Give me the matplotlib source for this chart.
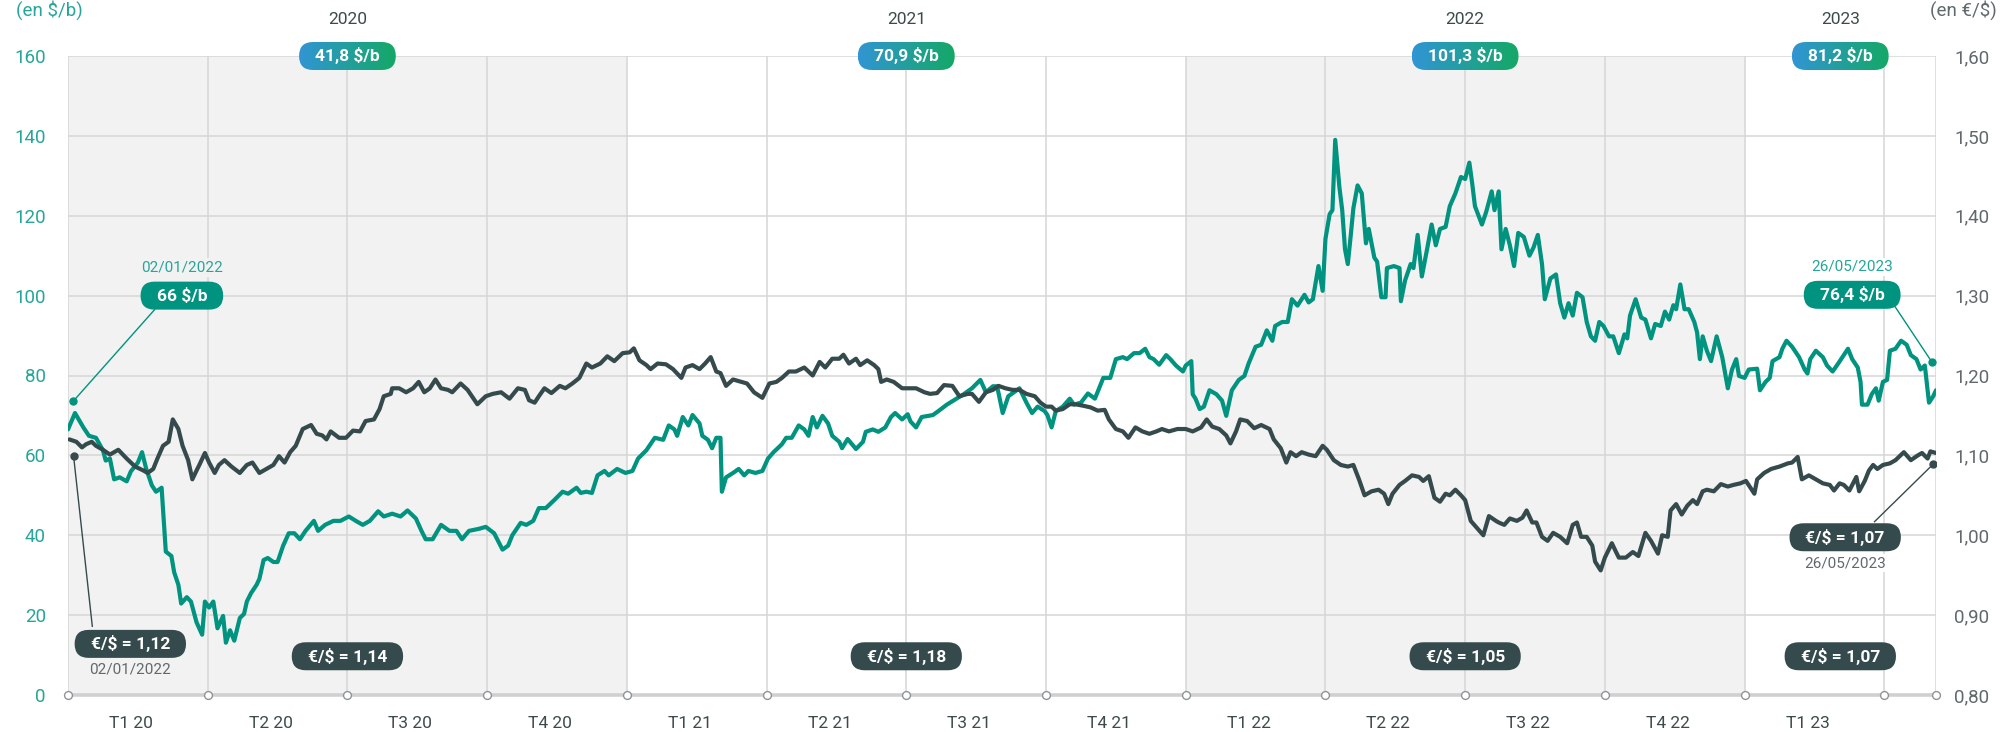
import matplotlib

matplotlib.use("Agg")
import matplotlib.pyplot as plt
import numpy as np
from matplotlib.colors import LinearSegmentedColormap
from matplotlib.patches import FancyBboxPatch
from matplotlib.transforms import IdentityTransform

plt.rcParams["font.family"] = ["Roboto", "DejaVu Sans"]

# time in quarters since 01/01/2020 (the chart draws every quarter the same width)
brent_q = [
    0.00, 0.05, 0.11, 0.15, 0.20, 0.25, 0.27, 0.30, 0.33, 0.37, 0.42, 0.45, 0.50, 0.53,
    0.56, 0.60, 0.63, 0.67, 0.70, 0.74, 0.76, 0.79, 0.81, 0.85, 0.88, 0.92, 0.96, 0.98,
    1.01, 1.04, 1.07, 1.11, 1.13, 1.16, 1.19, 1.23, 1.26, 1.28, 1.31, 1.35, 1.37, 1.40,
    1.43, 1.47, 1.50, 1.54, 1.58, 1.62, 1.66, 1.70, 1.76, 1.79, 1.84, 1.90, 1.95, 2.01,
    2.06, 2.11, 2.16, 2.22, 2.26, 2.32, 2.38, 2.43, 2.49, 2.53, 2.56, 2.61, 2.67, 2.73,
    2.78, 2.82, 2.87, 2.94, 2.99, 3.05, 3.11, 3.15, 3.18, 3.24, 3.28, 3.33, 3.37, 3.42,
    3.48, 3.54, 3.58, 3.64, 3.67, 3.71, 3.75, 3.79, 3.84, 3.87, 3.93, 3.99, 4.04, 4.08,
    4.14, 4.20, 4.26, 4.30, 4.34, 4.36, 4.40, 4.44, 4.47, 4.52, 4.54, 4.58, 4.61, 4.64,
    4.67, 4.68, 4.71, 4.76, 4.80, 4.84, 4.87, 4.92, 4.97, 5.01, 5.05, 5.11, 5.14, 5.18,
    5.23, 5.27, 5.30, 5.33, 5.36, 5.40, 5.44, 5.47, 5.52, 5.54, 5.58, 5.64, 5.69, 5.71,
    5.76, 5.80, 5.85, 5.89, 5.92, 5.97, 6.01, 6.03, 6.07, 6.11, 6.19, 6.23, 6.29, 6.36,
    6.41, 6.47, 6.53, 6.57, 6.62, 6.65, 6.69, 6.73, 6.81, 6.86, 6.90, 6.94, 6.99, 7.01,
    7.04, 7.07, 7.12, 7.17, 7.20, 7.25, 7.30, 7.35, 7.41, 7.46, 7.50, 7.55, 7.58, 7.63,
    7.67, 7.71, 7.74, 7.77, 7.81, 7.86, 7.89, 7.93, 7.98, 8.00, 8.04, 8.05, 8.07, 8.10,
    8.13, 8.17, 8.22, 8.26, 8.29, 8.33, 8.38, 8.42, 8.45, 8.50, 8.54, 8.58, 8.62, 8.64,
    8.69, 8.73, 8.76, 8.80, 8.85, 8.88, 8.91, 8.95, 8.98, 9.00, 9.03, 9.05, 9.07, 9.10,
    9.12, 9.14, 9.16, 9.18, 9.20, 9.23, 9.26, 9.29, 9.31, 9.35, 9.37, 9.40, 9.43, 9.44,
    9.49, 9.53, 9.54, 9.57, 9.61, 9.63, 9.66, 9.69, 9.73, 9.76, 9.79, 9.82, 9.86, 9.89,
    9.93, 9.97, 10.00, 10.03, 10.05, 10.07, 10.12, 10.15, 10.19, 10.21, 10.24, 10.26,
    10.29, 10.32, 10.35, 10.38, 10.42, 10.46, 10.49, 10.52, 10.55, 10.57, 10.61, 10.65,
    10.68, 10.71, 10.74, 10.77, 10.80, 10.84, 10.87, 10.90, 10.93, 10.96, 10.99, 11.03,
    11.06, 11.10, 11.14, 11.16, 11.18, 11.22, 11.26, 11.29, 11.33, 11.36, 11.40, 11.43,
    11.46, 11.49, 11.51, 11.54, 11.57, 11.60, 11.64, 11.66, 11.68, 11.70, 11.73, 11.76,
    11.80, 11.84, 11.88, 11.91, 11.94, 11.96, 12.00, 12.03, 12.09, 12.11, 12.15, 12.18,
    12.20, 12.25, 12.27, 12.30, 12.34, 12.39, 12.43, 12.45, 12.47, 12.51, 12.56, 12.59,
    12.63, 12.67, 12.71, 12.74, 12.77, 12.81, 12.83, 12.84, 12.88, 12.91, 12.94, 12.96,
    12.99, 13.02, 13.04, 13.08, 13.12, 13.16, 13.19, 13.23, 13.26, 13.29, 13.32, 13.35,
    13.37,
]
brent_usd = [
    66.5, 70.6, 67.0, 64.9, 64.4, 61.3, 58.7, 59.2, 54.0, 54.5, 53.5, 56.0, 58.2, 60.8,
    56.6, 52.5, 50.9, 51.9, 35.9, 34.8, 30.7, 27.6, 22.9, 24.5, 23.4, 18.2, 15.1, 23.4,
    21.9, 23.4, 16.7, 19.8, 13.1, 16.2, 13.6, 19.3, 20.3, 23.4, 25.5, 27.6, 29.1, 33.8,
    34.3, 33.3, 33.3, 37.4, 40.5, 40.5, 39.0, 41.1, 43.6, 41.1, 42.6, 43.6, 43.6, 44.7,
    43.6, 42.6, 43.6, 46.0, 44.7, 45.4, 44.7, 46.2, 44.2, 41.1, 39.0, 39.0, 42.6, 41.1,
    41.1, 39.0, 41.1, 41.6, 42.1, 40.5, 36.4, 37.4, 40.0, 43.1, 42.6, 43.6, 46.8, 46.8,
    48.8, 50.9, 50.4, 51.9, 50.6, 50.9, 50.6, 55.0, 56.1, 55.0, 56.6, 55.6, 56.1, 59.2,
    61.3, 64.4, 63.9, 67.5, 66.5, 64.9, 69.6, 67.5, 70.1, 68.0, 64.9, 63.9, 61.8, 64.4,
    64.4, 50.9, 54.5, 55.6, 56.6, 55.0, 56.1, 55.6, 56.1, 59.2, 60.8, 62.8, 64.4, 64.4,
    67.5, 66.5, 64.9, 69.6, 67.0, 69.9, 68.0, 64.9, 63.4, 61.8, 64.1, 61.6, 63.4, 65.9,
    66.5, 65.9, 67.0, 69.6, 70.6, 69.0, 70.3, 68.5, 67.0, 69.6, 70.1, 71.1, 72.7, 74.2,
    75.3, 76.8, 78.9, 75.8, 77.3, 77.3, 70.6, 74.8, 76.8, 73.2, 70.6, 72.2, 71.1, 70.1,
    67.0, 71.1, 72.2, 74.2, 72.7, 73.2, 75.5, 74.2, 79.4, 79.4, 84.1, 84.6, 84.1, 85.6,
    85.6, 86.7, 84.6, 84.1, 82.7, 85.1, 84.1, 82.5, 81.0, 82.5, 83.6, 75.3, 74.2, 71.6,
    72.2, 76.3, 75.3, 73.7, 69.9, 76.3, 78.9, 79.9, 83.0, 87.2, 87.7, 91.3, 88.7, 92.4,
    93.4, 93.4, 99.1, 97.5, 100.2, 98.3, 99.1, 107.4, 101.2, 114.2, 120.4, 121.4, 139.0, 127.1,
    121.4, 111.6, 107.9, 114.7, 121.9, 127.6, 125.6, 113.1, 116.7, 109.5, 108.5, 99.6, 99.6, 106.9,
    107.4, 106.9, 98.6, 103.8, 107.9, 106.9, 115.2, 104.8, 112.1, 117.8, 112.6, 116.7, 117.2, 122.4,
    125.6, 129.7, 129.2, 133.3, 128.2, 122.4, 117.8, 120.9, 126.1, 121.4, 126.1, 111.6,
    116.7, 112.6, 107.4, 115.7, 114.7, 110.0, 112.1, 115.2, 107.9, 99.1, 104.3, 105.3,
    98.1, 94.5, 98.1, 95.0, 100.7, 99.6, 93.4, 89.8, 88.7, 93.4, 92.4, 89.8,
    89.8, 85.6, 90.3, 89.3, 95.0, 99.1, 94.5, 94.0, 89.3, 92.9, 92.4, 96.0,
    94.0, 97.6, 96.6, 102.8, 96.6, 96.6, 93.4, 90.8, 84.1, 89.8, 86.2, 83.6,
    89.8, 84.6, 76.8, 81.5, 84.1, 79.9, 79.4, 81.5, 81.7, 76.3, 78.4, 79.4,
    83.6, 84.6, 86.7, 88.7, 87.2, 84.6, 81.5, 80.5, 84.1, 86.2, 84.6, 82.5,
    81.0, 83.0, 85.1, 86.7, 84.1, 82.0, 78.4, 72.7, 72.7, 75.3, 76.8, 73.7,
    78.4, 78.9, 86.2, 86.7, 88.7, 87.7, 85.1, 84.1, 81.5, 82.5, 73.2, 74.8,
    76.3,
]

eurusd_q = [
    0.01, 0.06, 0.10, 0.13, 0.17, 0.20, 0.25, 0.30, 0.36, 0.42, 0.48, 0.54, 0.57, 0.61,
    0.64, 0.68, 0.72, 0.75, 0.79, 0.82, 0.86, 0.89, 0.92, 0.94, 0.98, 1.01, 1.05, 1.08,
    1.12, 1.17, 1.23, 1.28, 1.32, 1.37, 1.42, 1.47, 1.51, 1.55, 1.59, 1.63, 1.68, 1.74,
    1.78, 1.82, 1.85, 1.88, 1.94, 1.99, 2.04, 2.09, 2.13, 2.19, 2.23, 2.26, 2.31, 2.32,
    2.37, 2.42, 2.47, 2.51, 2.55, 2.59, 2.63, 2.67, 2.72, 2.75, 2.81, 2.86, 2.93, 2.99,
    3.04, 3.10, 3.16, 3.22, 3.27, 3.30, 3.34, 3.37, 3.41, 3.46, 3.52, 3.56, 3.61, 3.66,
    3.71, 3.75, 3.81, 3.86, 3.91, 3.97, 4.02, 4.05, 4.09, 4.14, 4.17, 4.22, 4.28, 4.33,
    4.39, 4.42, 4.47, 4.52, 4.56, 4.60, 4.64, 4.67, 4.71, 4.76, 4.82, 4.86, 4.91, 4.97,
    5.02, 5.07, 5.11, 5.16, 5.21, 5.27, 5.33, 5.38, 5.42, 5.47, 5.52, 5.55, 5.59, 5.64,
    5.67, 5.72, 5.77, 5.80, 5.82, 5.86, 5.91, 5.97, 6.02, 6.07, 6.13, 6.17, 6.22, 6.27,
    6.33, 6.38, 6.44, 6.47, 6.52, 6.57, 6.62, 6.66, 6.71, 6.76, 6.81, 6.86, 6.92, 6.96,
    7.00, 7.04, 7.07, 7.12, 7.17, 7.21, 7.27, 7.32, 7.37, 7.42, 7.45, 7.50, 7.55, 7.59,
    7.64, 7.69, 7.74, 7.79, 7.83, 7.88, 7.94, 8.00, 8.05, 8.11, 8.15, 8.19, 8.24, 8.29,
    8.32, 8.36, 8.39, 8.44, 8.49, 8.54, 8.60, 8.63, 8.68, 8.72, 8.75, 8.79, 8.83, 8.88,
    8.93, 8.98, 9.01, 9.06, 9.11, 9.16, 9.20, 9.24, 9.28, 9.33, 9.38, 9.42, 9.45, 9.48,
    9.53, 9.57, 9.62, 9.67, 9.70, 9.74, 9.78, 9.82, 9.86, 9.89, 9.93, 9.97, 10.00, 10.04,
    10.09, 10.13, 10.17, 10.22, 10.24, 10.28, 10.32, 10.37, 10.41, 10.44, 10.48, 10.51,
    10.55, 10.59, 10.63, 10.68, 10.73, 10.77, 10.80, 10.83, 10.87, 10.91, 10.93, 10.97,
    11.00, 11.05, 11.08, 11.10, 11.15, 11.20, 11.24, 11.29, 11.33, 11.38, 11.41, 11.45,
    11.47, 11.51, 11.55, 11.59, 11.63, 11.66, 11.70, 11.73, 11.78, 11.83, 11.88, 11.92,
    11.97, 12.01, 12.07, 12.09, 12.14, 12.19, 12.25, 12.31, 12.34, 12.38, 12.41, 12.46,
    12.51, 12.56, 12.61, 12.64, 12.68, 12.71, 12.75, 12.80, 12.82, 12.86, 12.89, 12.92,
    12.95, 12.99, 13.04, 13.08, 13.14, 13.19, 13.24, 13.27, 13.31, 13.33, 13.37,
]
eurusd = [
    1.120, 1.117, 1.110, 1.114, 1.117, 1.112, 1.107, 1.101, 1.107, 1.096, 1.086, 1.081, 1.078, 1.083,
    1.096, 1.112, 1.117, 1.145, 1.133, 1.112, 1.094, 1.070, 1.081, 1.088, 1.103, 1.091, 1.078, 1.088,
    1.094, 1.086, 1.078, 1.088, 1.091, 1.078, 1.083, 1.088, 1.099, 1.091, 1.104, 1.112, 1.133, 1.138,
    1.127, 1.125, 1.120, 1.130, 1.122, 1.122, 1.131, 1.130, 1.143, 1.145, 1.158, 1.174, 1.177, 1.184,
    1.184, 1.179, 1.184, 1.192, 1.179, 1.184, 1.195, 1.184, 1.182, 1.179, 1.190, 1.182, 1.164, 1.174,
    1.177, 1.179, 1.171, 1.184, 1.182, 1.169, 1.166, 1.174, 1.184, 1.178, 1.187, 1.184, 1.190, 1.197,
    1.215, 1.210, 1.215, 1.224, 1.218, 1.228, 1.229, 1.234, 1.219, 1.213, 1.208, 1.215, 1.214, 1.208,
    1.197, 1.210, 1.213, 1.208, 1.215, 1.223, 1.205, 1.203, 1.187, 1.195, 1.192, 1.190, 1.179, 1.172,
    1.190, 1.192, 1.197, 1.205, 1.205, 1.210, 1.200, 1.217, 1.210, 1.221, 1.221, 1.226, 1.215, 1.221,
    1.213, 1.219, 1.213, 1.208, 1.192, 1.195, 1.192, 1.184, 1.184, 1.184, 1.179, 1.177, 1.178, 1.188,
    1.187, 1.174, 1.177, 1.177, 1.167, 1.179, 1.182, 1.187, 1.184, 1.182, 1.182, 1.177, 1.174, 1.166,
    1.161, 1.161, 1.156, 1.158, 1.164, 1.164, 1.162, 1.160, 1.156, 1.157, 1.145, 1.133, 1.130, 1.122,
    1.135, 1.130, 1.127, 1.130, 1.133, 1.130, 1.133, 1.133, 1.130, 1.135, 1.145, 1.136, 1.133, 1.125,
    1.115, 1.130, 1.145, 1.143, 1.134, 1.138, 1.133, 1.120, 1.109, 1.091, 1.104, 1.099, 1.104, 1.101,
    1.099, 1.112, 1.107, 1.094, 1.088, 1.086, 1.088, 1.070, 1.050, 1.055, 1.057, 1.052, 1.039, 1.052,
    1.063, 1.068, 1.075, 1.073, 1.068, 1.074, 1.047, 1.042, 1.052, 1.050, 1.057, 1.050, 1.044, 1.018,
    1.008, 1.000, 1.024, 1.018, 1.016, 1.013, 1.021, 1.018, 1.022, 1.031, 1.016, 1.016,
    0.998, 0.993, 1.003, 0.998, 0.990, 1.013, 1.016, 0.998, 0.998, 0.987, 0.967, 0.956,
    0.972, 0.990, 0.979, 0.972, 0.972, 0.979, 0.974, 1.003, 0.993, 0.977, 1.000, 0.998,
    1.031, 1.039, 1.026, 1.037, 1.044, 1.039, 1.055, 1.057, 1.055, 1.064, 1.061, 1.063,
    1.065, 1.068, 1.052, 1.070, 1.078, 1.083, 1.086, 1.090, 1.091, 1.098, 1.070, 1.075,
    1.070, 1.065, 1.063, 1.056, 1.065, 1.063, 1.056, 1.073, 1.055, 1.068, 1.081, 1.088,
    1.083, 1.088, 1.090, 1.094, 1.104, 1.094, 1.100, 1.103, 1.096, 1.105, 1.103,
]

END_Q = 13.37
quarter_labels = ["T1 20", "T2 20", "T3 20", "T4 20", "T1 21", "T2 21", "T3 21",
                  "T4 21", "T1 22", "T2 22", "T3 22", "T4 22", "T1 23"]
years = ["2020", "2021", "2022", "2023"]
year_mid = [2.0, 6.0, 10.0, (12 + END_Q) / 2]
year_brent = ["41,8 $/b", "70,9 $/b", "101,3 $/b", "81,2 $/b"]
year_fx = ["€/$ = 1,14", "€/$ = 1,18", "€/$ = 1,05", "€/$ = 1,07"]
grey_years = [(0, 4), (8, 12)]

TEAL = "#00937f"
TEAL_TXT = "#26a69a"
DARK = "#354a4d"
GRID = "#d6d6d6"
SHADE = "#f2f2f2"
TXT = "#3d4a4c"
GREY = "#60696b"

W, H = 2001, 732
fig = plt.figure(figsize=(W / 100, H / 100), dpi=100)
ax = fig.add_axes([68 / W, 1 - 695 / H, (1936 - 68) / W, (695 - 56) / H])
ax2 = ax.twinx()
ax.set_xlim(0, END_Q)
ax.set_ylim(0, 160)
ax2.set_ylim(0.8, 1.6)

for a in (ax, ax2):
    for s in a.spines.values():
        s.set_visible(False)
ax.set_xticks([])
ax.set_yticks(range(0, 161, 20))
ax.tick_params(axis="y", length=0, pad=16, labelsize=13.5, labelcolor=TEAL_TXT)
fx_ticks = np.round(np.arange(0.8, 1.61, 0.1), 2)
ax2.set_yticks(fx_ticks, [f"{v:.2f}".replace(".", ",") for v in fx_ticks])
ax2.tick_params(axis="y", length=0, pad=13, labelsize=13.5, labelcolor=GREY)

for a, b in grey_years:
    ax.axvspan(a, b, color=SHADE, lw=0, zorder=0)
for q in list(range(14)) + [END_Q]:
    ax.axvline(q, color=GRID, lw=1.1, zorder=1)
for y in range(20, 161, 20):
    ax.axhline(y, color=GRID, lw=1.1, zorder=1)
ax.axhline(0, color="#d0d0d0", lw=2.6, zorder=1, clip_on=False)
ax.scatter(list(range(14)) + [END_Q], [0] * 15, s=32, facecolor="white",
           edgecolor="#8f9597", lw=1, zorder=6, clip_on=False)

for i, lab in enumerate(quarter_labels):
    ax.text(i + 0.45, -0.044, lab, transform=ax.get_xaxis_transform(),
            ha="center", va="center", fontsize=12.5, color=TXT)
for x, lab in zip(year_mid, years):
    ax.text(x, 1.057, lab, transform=ax.get_xaxis_transform(),
            ha="center", va="center", fontsize=12.5, color=TXT)
fig.text(16 / W, 1.0, "(en $/b)", color=TEAL_TXT, fontsize=13.5,
         ha="left", va="top")
fig.text(1997 / W, 1.0, "(en €/$)", color=GREY, fontsize=13.5,
         ha="right", va="top")

ax.plot(brent_q, brent_usd, color=TEAL, lw=3.0, zorder=3,
        solid_joinstyle="round", solid_capstyle="round")
ax2.plot(eurusd_q, eurusd, color=DARK, lw=3.0, zorder=3,
         solid_joinstyle="round", solid_capstyle="round")

renderer = fig.canvas.get_renderer()
grad_cmap = LinearSegmentedColormap.from_list("badge", ["#3195d4", "#14a866"])


def pill(x, y, text, fc=None, gradient=False, h=28, pad=16, fs=12.5):
    """Rounded label centred on (x, y) given in left-axis data units."""
    cx, cy = ax.transData.transform((x, y))
    t = ax2.text(cx, cy, text, transform=IdentityTransform(), ha="center",
                 va="center", fontsize=fs, fontweight="bold", color="white",
                 zorder=12, clip_on=False)
    tw = t.get_window_extent(renderer).width
    w = tw + 2 * pad
    box = FancyBboxPatch((cx - w / 2, cy - h / 2), w, h,
                         boxstyle=f"round,pad=0,rounding_size={h / 2}",
                         transform=IdentityTransform(), lw=0)
    if gradient:
        inv = ax2.transData.inverted()
        (x0, y0), (x1, y1) = inv.transform([(cx - w / 2, cy - h / 2),
                                             (cx + w / 2, cy + h / 2)])
        im = ax2.imshow(np.linspace(0, 1, 256).reshape(1, -1), cmap=grad_cmap,
                        extent=(x0, x1, y0, y1), aspect="auto", zorder=10,
                        interpolation="bilinear")
        im.set_clip_box(fig.bbox)
        im.set_clip_path(box)
    else:
        box.set_facecolor(fc)
        box.set_zorder(10)
        box.set_clip_on(False)
        ax2.add_patch(box)


def small(x, y, text, color, bg):
    cx, cy = ax.transData.transform((x, y))
    ax2.text(cx, cy, text, transform=IdentityTransform(), ha="center", va="center",
             fontsize=11, color=color, zorder=12, clip_on=False,
             bbox=dict(boxstyle="square,pad=0.15", fc=bg, ec="none"))


for x, b, f in zip(year_mid, year_brent, year_fx):
    pill(x, 160, b, gradient=True)
    pill(x, 9.7, f, fc=DARK)

# first / last value call-outs
ax.plot([0.036, 0.62], [73.5, 96.5], color=TEAL, lw=1, zorder=4)
ax.plot([0.036], [73.5], "o", ms=5, color=TEAL, zorder=5)
small(0.815, 107.1, "02/01/2022", TEAL_TXT, SHADE)
pill(0.815, 100, "66 $/b", fc=TEAL)

ax2.plot([0.04, 0.174], [1.099, 0.886], color=DARK, lw=1, zorder=4)
ax2.plot([0.04], [1.099], "o", ms=5, color=DARK, zorder=5)
pill(0.446, 12.8, "€/$ = 1,12", fc=DARK)
small(0.446, 6.3, "02/01/2022", GREY, SHADE)

ax.plot([13.07, 13.34], [97.6, 83.4], color=TEAL, lw=1, zorder=4)
ax.plot([13.34], [83.4], "o", ms=5, color=TEAL, zorder=5)
small(12.77, 107.2, "26/05/2023", TEAL_TXT, "white")
pill(12.77, 100.2, "76,4 $/b", fc=TEAL)

ax2.plot([12.93, 13.35], [1.017, 1.089], color=DARK, lw=1, zorder=4)
ax2.plot([13.35], [1.089], "o", ms=5, color=DARK, zorder=5)
pill(12.72, 39.5, "€/$ = 1,07", fc=DARK)
small(12.72, 33.0, "26/05/2023", GREY, "white")

ax.set_xlim(0, END_Q)
ax2.set_ylim(0.8, 1.6)
fig.savefig("out.png", dpi=100)
